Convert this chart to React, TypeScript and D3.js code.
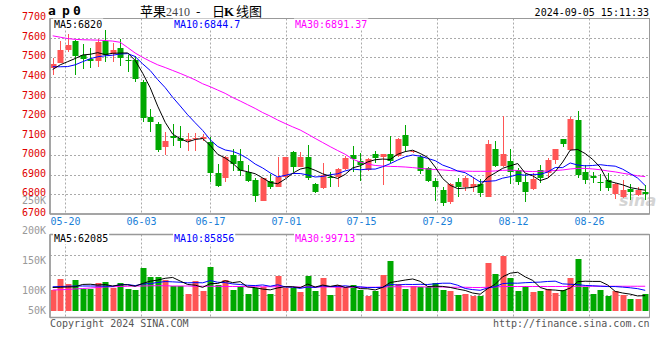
import React from 'react';
import * as d3 from 'd3';

const dates = [
  '05-16','05-17','05-20','05-21','05-22','05-23','05-24','05-27','05-28','05-29','05-30','05-31',
  '06-03','06-04','06-05','06-06','06-07','06-11','06-12','06-13','06-14','06-17','06-18','06-19','06-20','06-21','06-24','06-25','06-26','06-27','06-28',
  '07-01','07-02','07-03','07-04','07-05','07-08','07-09','07-10','07-11','07-12','07-15','07-16','07-17','07-18','07-19','07-22','07-23','07-24','07-25','07-26','07-29','07-30','07-31',
  '08-01','08-02','08-05','08-06','08-07','08-08','08-09','08-12','08-13','08-14','08-15','08-16','08-19','08-20','08-21','08-22','08-23','08-26','08-27','08-28','08-29','08-30',
  '09-02','09-03','09-04','09-05',
];

const open = [
  7447,7472,7537,7583,7514,7491,7481,7583,7515,7547,7488,7486,7375,7196,7158,7043,7098,7088,7072,7082,
  7084,7068,6908,6882,7001,6970,6912,6873,6768,6870,6840,6887,7018,6942,6993,6851,6834,6890,6887,6930,
  7001,6972,6925,7004,6993,7004,6998,7103,7015,6993,6933,6870,6822,6763,6862,6836,6836,6851,6788,7030,
  6947,6970,6925,6865,6828,6925,6907,6976,7083,7027,7180,6916,6892,6865,6873,6802,6788,6828,6797,6814,
];
const high = [
  7498,7583,7620,7590,7567,7548,7596,7640,7571,7596,7511,7508,7384,7234,7171,7120,7158,7150,7112,7112,
  7110,7093,6953,6995,7032,7032,6952,6882,6882,6902,6992,6993,7021,7018,7052,6856,6958,6916,6936,6996,
  7045,7010,6985,7021,7004,7100,7090,7154,7027,7001,6938,6882,6836,6860,6885,6896,6890,6877,7077,7072,
  7202,7032,6935,6902,6907,6950,6987,7032,7085,7193,7225,6950,6916,6902,6907,6857,6873,6851,6839,6848,
];
const low = [
  7410,7470,7525,7412,7443,7446,7452,7477,7474,7457,7426,7375,7168,7120,7018,7001,7047,7035,7021,7021,
  7075,6865,6840,6862,6918,6892,6865,6759,6765,6828,6836,6885,6913,6938,6873,6809,6826,6840,6840,6925,
  6916,6870,6920,6958,6848,6958,6993,7018,7010,6902,6865,6768,6743,6750,6788,6817,6814,6788,6785,6940,
  6941,6851,6850,6760,6823,6857,6882,6955,7040,7022,6882,6851,6856,6819,6819,6777,6780,6772,6790,6772,
];
const close = [
  7465,7538,7562,7506,7491,7482,7579,7514,7538,7497,7485,7387,7188,7168,7026,7072,7086,7072,7084,7090,
  7094,6911,6845,6990,6955,6919,6870,6794,6882,6840,6887,6989,6942,6989,6882,6814,6899,6882,6930,6987,
  6981,6950,6981,6987,7004,6970,7083,7049,7023,6921,6870,6836,6755,6851,6836,6885,6851,6806,7060,6947,
  7004,6913,6865,6814,6879,6882,6976,7032,7057,7183,6899,6873,6882,6857,6831,6853,6822,6811,6822,6800,
];
// volume in thousands of lots
const volumeK = [
  85,129,109,125,89,89,114,118,94,114,89,85,175,139,137,125,102,102,70,123,
  81,177,105,125,85,101,69,92,96,69,141,92,92,78,141,81,132,65,105,92,
  105,85,62,81,146,202,108,89,102,98,98,114,85,81,65,70,62,62,195,150,
  224,133,81,102,78,81,88,74,85,135,210,98,70,85,62,81,65,48,48,69,
];

const ma5Start = [7438, 7462, 7478, 7494];
const ma10Start = [7452, 7452, 7453, 7462, 7478, 7493, 7503, 7508, 7511];
const ma30 = [
  7610,7603,7596,7592,7590,7589,7588,7586,7583,7577,7550,7522,7500,7480,7462,7448,7433,7418,7402,7385,
  7365,7350,7333,7316,7295,7277,7258,7239,7218,7200,7180,7162,7145,7129,7108,7086,7065,7044,7024,7005,
  6980,6965,6955,6948,6945,6943,6942,6940,6937,6933,6930,6927,6925,6922,6920,6919,6918,6918,6918,6920,
  6923,6924,6922,6918,6917,6918,6920,6922,6925,6930,6933,6933,6930,6926,6920,6915,6908,6902,6895,6891,
];
const volMa5StartK = [95, 96, 97, 98];
const volMa10StartK = [98, 99, 100, 101, 101, 101, 101, 100, 100];
const volMa30K = [
  85,86,87,89,91,93,95,97,98,99,100,101,101,102,102,102,101,101,101,100,
  100,100,100,99,99,99,98,98,98,98,98,98,97,97,97,97,97,97,96,96,
  96,96,96,96,97,98,98,98,98,98,97,97,97,96,96,96,95,95,96,97,
  99,99,99,99,99,99,99,99,99,99,100,100,100,100,100,100,100,100,100,100,
];

const priceTicks = [7700, 7600, 7500, 7400, 7300, 7200, 7100, 7000, 6900, 6800, 6700];
const volTicks = [250000, 200000, 150000, 100000, 50000];
const volTickLabels = ['250K', '200K', '150K', '100K', '50K'];
const dateTicks = ['05-20', '06-03', '06-17', '07-01', '07-15', '07-29', '08-12', '08-26'];

const priceHeader = [
  { label: 'MA5:6820', color: '#000000' },
  { label: 'MA10:6844.7', color: '#0000ff' },
  { label: 'MA30:6891.37', color: '#ff00ff' },
];
const volHeader = [
  { label: 'MA5:62085', color: '#000000' },
  { label: 'MA10:85856', color: '#0000ff' },
  { label: 'MA30:99713', color: '#ff00ff' },
];

const UP = '#ff5555';
const DOWN = '#00a800';
const MONO = '"DejaVu Sans Mono", "Liberation Mono", monospace';

function rolling(values: number[], n: number, start: number[]): number[] {
  return values.map((_, i) => (i < n - 1 ? start[i] : (d3.mean(values.slice(i - n + 1, i + 1)) as number)));
}

export default function App() {
  const W = 660;
  const H = 360;
  const plotL = 50;
  const plotR = 649.5;
  const priceTop = 18.5;
  const priceBot = 214;
  const volTop = 234.5;
  const volBot = 317.5;
  const volGridStep = 20.3;

  // candles
  const x = d3.scalePoint<string>().domain(dates).range([52.7, 645.2]);
  // date gridlines / labels (the source spaces them across the full plot width)
  const xGrid = d3.scalePoint<string>().domain(dates).range([50.1, 650]);
  const y = d3.scaleLinear().domain([6700, 7700]).range([priceBot, 18.2]);
  const yv = d3.scaleLinear().domain([0, 310000]).range([311, 234.3]);
  const yvLabel = d3.scaleLinear().domain([100000, 250000]).range([290, 200.7]);

  const volume = volumeK.map((v) => v * 1000);
  const ma5 = rolling(close, 5, ma5Start);
  const ma10 = rolling(close, 10, ma10Start);
  const vma5 = rolling(volume, 5, volMa5StartK.map((v) => v * 1000));
  const vma10 = rolling(volume, 10, volMa10StartK.map((v) => v * 1000));
  const vma30 = volMa30K.map((v) => v * 1000);

  const px = (i: number) => x(dates[i]) as number;
  const priceLine = d3.line<number>().x((_, i) => px(i)).y((d) => y(d));
  const volLine = d3.line<number>().x((_, i) => px(i)).y((d) => yv(d));

  const bodyW = 6;
  const grid = '#aaaaaa';

  const headerText = (items: { label: string; color: string }[], baseY: number, key: string) =>
    items.map((it, k) => {
      const tx = [54, 174, 295][k];
      return (
        <g key={key + k}>
          <rect x={tx - 1} y={baseY - 9} width={it.label.length * 6.02 + 2} height={11} fill="#fff" />
          <text x={tx} y={baseY} fill={it.color} fontFamily={MONO} fontSize={10}>
            {it.label}
          </text>
        </g>
      );
    });

  return (
    <svg
      width={W}
      height={H}
      viewBox={`0 0 ${W} ${H}`}
      style={{ position: 'absolute', left: 0, top: 0, background: '#fff' }}
    >
      <rect x={0} y={0} width={W} height={H} fill="#fff" />

      {/* title row */}
      <text y={15} fontFamily={MONO} fontWeight="bold" fontSize={13} fill="#000">
        <tspan x={48}>a</tspan>
        <tspan x={62}>p</tspan>
        <tspan x={73}>0</tspan>
      </text>
      <text y={16} fontFamily='"Noto Sans CJK SC", sans-serif' fontSize={13} fill="#000">
        <tspan x={140}>苹果</tspan>
        <tspan x={166} fontFamily='"Liberation Serif", serif' fontSize={12} fill="#444">2410</tspan>
        <tspan x={196}>-</tspan>
        <tspan x={212}>日</tspan>
        <tspan x={224} fontFamily='"Liberation Serif", serif' fontWeight="bold">K</tspan>
        <tspan x={236}>线图</tspan>
      </text>
      <text x={649} y={15.5} textAnchor="end" fontFamily={MONO} fontSize={10} fill="#000">
        2024-09-05 15:11:33
      </text>

      {/* watermark */}
      <text x={619} y={206} fontFamily='"DejaVu Sans", sans-serif' fontStyle="italic" fontWeight="bold" fontSize={16} fill="#d4d4d4">
        sina
      </text>

      {/* price gridlines */}
      {priceTicks
        .filter((t) => t !== 7700 && t !== 6700)
        .map((t) => (
          <line key={'hg' + t} x1={plotL} x2={plotR} y1={Math.round(y(t)) + 0.5} y2={Math.round(y(t)) + 0.5} stroke={grid} strokeDasharray="2,2" />
        ))}
      {dateTicks.map((d) => {
        const gx = Math.round(xGrid(d) as number) + 0.5;
        return (
          <g key={'vg' + d}>
            <line x1={gx} x2={gx} y1={priceTop} y2={priceBot} stroke={grid} strokeDasharray="2,2" />
            <line x1={gx} x2={gx} y1={volTop} y2={volBot} stroke={grid} strokeDasharray="2,2" />
          </g>
        );
      })}
      {d3.range(1, 4).map((k) => (
        <line key={'vh' + k} x1={plotL} x2={plotR} y1={Math.round(volTop + k * volGridStep) + 0.5} y2={Math.round(volTop + k * volGridStep) + 0.5} stroke={grid} strokeDasharray="2,2" />
      ))}

      {/* candles */}
      {dates.map((d, i) => {
        const cx = Math.round(px(i));
        const up = close[i] >= open[i];
        const col = up ? UP : DOWN;
        const top = Math.round(y(Math.max(open[i], close[i])));
        const bot = Math.round(y(Math.min(open[i], close[i])));
        return (
          <g key={'c' + d}>
            <line x1={cx + 0.5} x2={cx + 0.5} y1={Math.round(y(high[i]))} y2={Math.round(y(low[i]))} stroke={col} />
            <rect x={cx - 2.5} y={top} width={bodyW} height={Math.max(1, bot - top)} fill={col} />
          </g>
        );
      })}

      {/* price MAs */}
      <path d={priceLine(ma30) as string} fill="none" stroke="#ff00ff" strokeWidth={1} />
      <path d={priceLine(ma10) as string} fill="none" stroke="#0000ff" strokeWidth={1} />
      <path d={priceLine(ma5) as string} fill="none" stroke="#000000" strokeWidth={1} />

      {/* volume bars */}
      {dates.map((d, i) => {
        const cx = Math.round(px(i));
        const col = close[i] >= open[i] ? UP : DOWN;
        const top = Math.round(yv(volume[i]));
        return <rect key={'v' + d} x={cx - 2.5} y={top} width={bodyW} height={Math.round(yv(0)) - top} fill={col} />;
      })}
      <path d={volLine(vma30) as string} fill="none" stroke="#ff00ff" strokeWidth={1} />
      <path d={volLine(vma10) as string} fill="none" stroke="#0000ff" strokeWidth={1} />
      <path d={volLine(vma5) as string} fill="none" stroke="#000000" strokeWidth={1} />

      {/* frames */}
      <rect x={plotL} y={priceTop} width={plotR - plotL} height={priceBot - priceTop} fill="none" stroke="#999" strokeWidth={1} />
      <line x1={plotL} x2={plotR} y1={priceBot} y2={priceBot} stroke="#999" strokeWidth={1.5} />
      <line x1={plotL} x2={plotL} y1={priceTop} y2={priceBot} stroke="#999" strokeWidth={1.5} />
      <rect x={plotL} y={volTop} width={plotR - plotL} height={volBot - volTop} fill="none" stroke="#999" strokeWidth={1} />
      <line x1={plotL} x2={plotR} y1={volTop} y2={volTop} stroke="#999" strokeWidth={1.5} />
      <line x1={plotL} x2={plotR} y1={volBot} y2={volBot} stroke="#999" strokeWidth={1.5} />
      <line x1={plotL} x2={plotL} y1={volTop} y2={volBot} stroke="#999" strokeWidth={1.5} />

      {/* header legends */}
      {headerText(priceHeader, 27.5, 'ph')}
      {headerText(volHeader, 242, 'vh')}

      {/* price axis labels */}
      {priceTicks.map((t) => (
        <text key={'pl' + t} x={46} y={y(t) + 2} textAnchor="end" fontFamily={MONO} fontSize={10} fill="#e00000">
          {t}
        </text>
      ))}
      {/* volume axis labels */}
      {volTicks.map((t, k) => (
        <text key={'vl' + t} x={46} y={Math.min(yvLabel(t), 310) + 3.5} textAnchor="end" fontFamily={MONO} fontSize={10} fill="#999">
          {volTickLabels[k]}
        </text>
      ))}
      {/* date labels */}
      {dateTicks.map((d) => (
        <text key={'dl' + d} x={Math.round(xGrid(d) as number) + 0.5} y={225} textAnchor="middle" fontFamily={MONO} fontSize={10} fill="#1a80d8">
          {d}
        </text>
      ))}

      {/* footer */}
      <text x={50} y={327} fontFamily={MONO} fontSize={10} fill="#555">
        Copyright 2024 SINA.COM
      </text>
      <text x={649.5} y={327} textAnchor="end" fontFamily={MONO} fontSize={10} fill="#555">
        http://finance.sina.com.cn
      </text>
    </svg>
  );
}
